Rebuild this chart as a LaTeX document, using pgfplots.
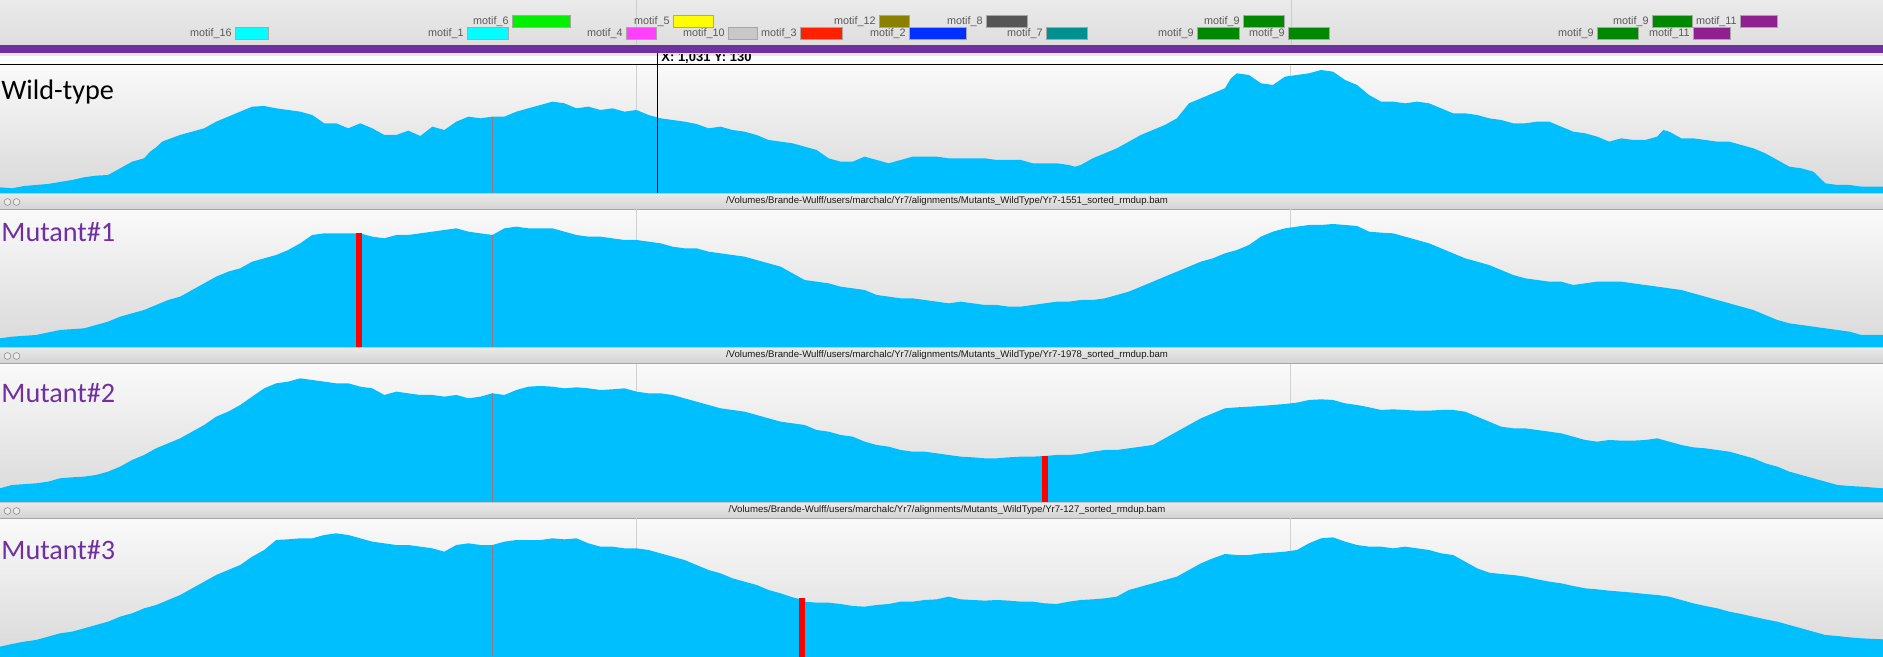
\documentclass[border=0pt]{standalone}
\usepackage{fontspec}
\setmainfont{Liberation Sans}
\newfontfamily\calib{Carlito}
\usepackage{pgfplots}
\pgfplotsset{compat=1.18}
\definecolor{cov}{RGB}{0,191,255}
\definecolor{trk}{RGB}{112,48,160}
\definecolor{mk}{RGB}{150,120,130}
\definecolor{mcyan}{RGB}{0,255,255}
\definecolor{mgreen}{RGB}{0,240,0}
\definecolor{mmag}{RGB}{255,64,255}
\definecolor{myel}{RGB}{255,255,0}
\definecolor{mlgray}{RGB}{200,200,200}
\definecolor{mred}{RGB}{255,32,0}
\definecolor{molive}{RGB}{140,128,0}
\definecolor{mblue}{RGB}{0,48,255}
\definecolor{mdgray}{RGB}{85,85,85}
\definecolor{mteal}{RGB}{0,144,144}
\definecolor{mdgreen}{RGB}{0,136,0}
\definecolor{mpurp}{RGB}{144,32,144}
\newcommand{\motif}[5]{%
  \filldraw[fill=#2, draw=black!35, line width=0.3pt] (#3,#5) rectangle (#4,#5+12);
  \node[anchor=base east, inner sep=0pt, font=\fontsize{5.4pt}{6pt}\selectfont, text=black!65] at (#3-3,#5+9.5) {#1};}
\newcommand{\tbar}[2]{%
  \shade[top color=black!8, bottom color=black!17] (0,#1) rectangle (1883,#1+16);
  \draw[black!22, line width=0.3pt] (0,#1) -- (1883,#1);
  \draw[black!35, line width=0.3pt] (0,#1+16) -- (1883,#1+16);
  \draw[black!45, fill=black!8, line width=0.3pt] (7.5,#1+9) circle (3.4) (16.5,#1+9) circle (3.4);
  \node[inner sep=0pt, font=\fontsize{4.8pt}{5pt}\selectfont, text=black!90] at (947,#1+8.5) {#2};}
\pgfplotsset{panel/.style={anchor=south west, scale only axis, width=941.5pt,
  xmin=0, xmax=1568, ymin=0, hide axis, clip=true}}
\begin{document}
\begin{tikzpicture}
\useasboundingbox (0,0) rectangle (941.5pt,328.5pt);
\begin{scope}[x=0.5pt, y=-0.5pt, yshift=328.5pt]
  % header
  \shade[top color=black!8, bottom color=black!13] (0,0) rectangle (1883,45);
  \draw[black!20, line width=0.3pt] (636,0) -- (636,45) (1291,0) -- (1291,45);
  \fill[trk] (0,45) rectangle (1883,53);
  \fill[black!9] (0,53) rectangle (1883,56);
  \fill[white] (0,56) rectangle (1883,64);
  % panel backgrounds
  \shade[top color=black!2, bottom color=black!15] (0,64) rectangle (1883,193);
  \shade[top color=black!2, bottom color=black!15] (0,209) rectangle (1883,347);
  \shade[top color=black!2, bottom color=black!15] (0,364) rectangle (1883,502);
  \shade[top color=black!2, bottom color=black!15] (0,518) rectangle (1883,657);
  % motifs row 1
  \motif{motif\_6}{mgreen}{512}{570}{15}
  \motif{motif\_5}{myel}{673}{713}{15}
  \motif{motif\_12}{molive}{879}{909}{15}
  \motif{motif\_8}{mdgray}{986}{1027}{15}
  \motif{motif\_9}{mdgreen}{1243}{1284}{15}
  \motif{motif\_9}{mdgreen}{1652}{1692}{15}
  \motif{motif\_11}{mpurp}{1740}{1777}{15}
  % motifs row 2
  \motif{motif\_16}{mcyan}{235}{268}{27}
  \motif{motif\_1}{mcyan}{467}{508}{27}
  \motif{motif\_4}{mmag}{626}{656}{27}
  \motif{motif\_10}{mlgray}{728}{757}{27}
  \motif{motif\_3}{mred}{800}{842}{27}
  \motif{motif\_2}{mblue}{909}{966}{27}
  \motif{motif\_7}{mteal}{1046}{1087}{27}
  \motif{motif\_9}{mdgreen}{1197}{1239}{27}
  \motif{motif\_9}{mdgreen}{1288}{1329}{27}
  \motif{motif\_9}{mdgreen}{1597}{1638}{27}
  \motif{motif\_11}{mpurp}{1693}{1730}{27}
  % title bars
  \tbar{193}{/Volumes/Brande-Wulff/users/marchalc/Yr7/alignments/Mutants\_WildType/Yr7-1551\_sorted\_rmdup.bam}
  \tbar{347}{/Volumes/Brande-Wulff/users/marchalc/Yr7/alignments/Mutants\_WildType/Yr7-1978\_sorted\_rmdup.bam}
  \tbar{502}{/Volumes/Brande-Wulff/users/marchalc/Yr7/alignments/Mutants\_WildType/Yr7-127\_sorted\_rmdup.bam}
\end{scope}

% ---------- Wild-type ----------
\begin{axis}[panel, at={(0pt,232.17pt)}, height=64.33pt, ymax=386]
\addplot[black!18, line width=0.5pt] coordinates {(530,0)(530,386)};
\addplot[black!18, line width=0.5pt] coordinates {(1075,0)(1075,386)};
\addplot[fill=cov, draw=none] coordinates {
(0,-5)(0,16)(10,13)(20,20)(40,26)(60,38)(70,46)(80,51)(90,53)(100,73)(110,93)(120,103)(125,123)(130,136)(135,153)(140,160)(150,173)(160,183)(170,193)(180,213)(190,228)(200,243)(210,258)(220,260)(230,253)(240,248)(250,243)(260,233)(270,208)(280,208)(290,193)(300,208)(310,193)(320,173)(330,173)(340,186)(350,170)(360,198)(370,188)(380,213)(390,228)(400,223)(410,228)(420,228)(430,243)(440,253)(450,263)(460,273)(470,268)(480,253)(490,258)(500,248)(510,253)(520,243)(530,248)(540,233)(550,223)(560,218)(570,213)(580,206)(590,193)(600,198)(610,188)(620,183)(630,173)(640,158)(650,153)(660,148)(670,138)(680,128)(690,103)(700,93)(710,93)(720,108)(730,98)(740,88)(750,98)(760,108)(770,108)(780,108)(790,103)(800,103)(810,103)(820,103)(830,98)(840,98)(850,98)(860,88)(870,88)(880,88)(890,83)(895,78)(900,83)(910,103)(920,118)(930,133)(940,153)(950,173)(960,188)(970,203)(980,223)(990,268)(1000,283)(1010,298)(1020,313)(1025,343)(1030,358)(1040,353)(1050,328)(1060,323)(1070,348)(1080,353)(1090,358)(1100,368)(1110,363)(1120,338)(1130,323)(1140,293)(1150,273)(1160,273)(1170,268)(1180,273)(1190,268)(1200,253)(1210,238)(1220,238)(1230,233)(1240,223)(1250,218)(1260,208)(1270,208)(1280,213)(1290,213)(1300,198)(1310,183)(1320,178)(1330,168)(1340,153)(1350,163)(1360,158)(1370,158)(1380,168)(1385,188)(1390,183)(1400,163)(1410,163)(1420,158)(1430,153)(1440,153)(1450,143)(1460,133)(1470,118)(1480,98)(1490,78)(1500,73)(1510,63)(1520,28)(1530,23)(1540,23)(1550,18)(1568,18)(1568,-5)} -- cycle;
\addplot[mk, line width=0.4pt] coordinates {(410,0)(410,228)};
\end{axis}

% ---------- Mutant#1 ----------
\begin{axis}[panel, at={(0pt,155pt)}, height=68.83pt, ymax=413]
\addplot[black!18, line width=0.5pt] coordinates {(530,0)(530,413)};
\addplot[black!18, line width=0.5pt] coordinates {(1075,0)(1075,413)};
\addplot[fill=cov, draw=none] coordinates {
(0,-5)(0,26)(10,31)(30,36)(50,51)(70,56)(80,66)(90,76)(100,91)(110,101)(120,111)(130,126)(140,141)(150,151)(160,171)(170,191)(180,211)(190,226)(200,236)(210,256)(220,266)(230,276)(240,291)(250,311)(260,336)(270,341)(280,341)(290,341)(300,341)(310,331)(320,326)(330,336)(340,336)(350,341)(360,346)(370,351)(380,356)(390,346)(400,341)(410,336)(420,356)(430,361)(440,356)(450,356)(460,356)(470,346)(480,336)(490,331)(500,331)(510,326)(520,321)(530,321)(540,316)(550,311)(560,301)(570,296)(580,296)(590,286)(600,281)(610,276)(620,271)(630,261)(640,251)(650,241)(660,221)(670,201)(680,196)(690,191)(700,181)(710,176)(720,171)(730,156)(740,151)(750,146)(760,146)(770,141)(780,136)(790,131)(800,136)(810,131)(820,126)(830,126)(840,121)(850,121)(860,126)(870,131)(880,136)(890,136)(900,141)(910,141)(920,146)(930,156)(940,166)(950,181)(960,196)(970,211)(980,226)(990,241)(1000,256)(1010,266)(1020,281)(1030,291)(1040,306)(1050,331)(1060,346)(1070,356)(1080,361)(1090,366)(1100,366)(1110,369)(1120,366)(1130,363)(1140,346)(1150,343)(1160,341)(1170,331)(1180,321)(1190,311)(1200,296)(1210,281)(1220,266)(1230,256)(1240,246)(1250,231)(1260,216)(1270,206)(1280,201)(1290,196)(1300,196)(1310,186)(1320,191)(1330,196)(1340,196)(1350,196)(1360,191)(1370,186)(1380,181)(1390,176)(1400,171)(1410,161)(1420,151)(1430,141)(1440,131)(1450,121)(1460,111)(1470,96)(1480,81)(1490,71)(1500,66)(1510,61)(1520,56)(1530,51)(1540,46)(1550,36)(1560,36)(1568,36)(1568,-5)} -- cycle;
\addplot[mk, line width=0.4pt] coordinates {(410,0)(410,336)};
\addplot[fill=red, draw=none] coordinates {(296.5,0)(296.5,341)(301.5,341)(301.5,0)} -- cycle;
\end{axis}

% ---------- Mutant#2 ----------
\begin{axis}[panel, at={(0pt,77.67pt)}, height=68.83pt, ymax=413]
\addplot[black!18, line width=0.5pt] coordinates {(530,0)(530,413)};
\addplot[black!18, line width=0.5pt] coordinates {(1075,0)(1075,413)};
\addplot[fill=cov, draw=none] coordinates {
(0,-5)(0,40)(10,50)(30,55)(40,60)(50,70)(60,73)(70,75)(80,80)(90,90)(100,105)(110,125)(120,140)(130,160)(140,175)(150,190)(160,210)(170,230)(180,255)(190,270)(200,290)(210,315)(220,340)(230,355)(240,360)(250,370)(260,365)(270,360)(280,355)(290,355)(300,345)(310,340)(320,320)(330,330)(340,325)(350,320)(360,320)(370,315)(380,320)(390,310)(400,315)(410,325)(420,320)(430,335)(440,345)(450,347)(460,345)(470,340)(480,343)(490,340)(500,335)(510,337)(520,340)(530,330)(540,325)(550,325)(560,320)(570,310)(580,300)(590,290)(600,280)(610,275)(620,270)(630,260)(640,250)(650,240)(660,235)(670,230)(680,215)(690,210)(700,200)(710,195)(720,180)(730,170)(740,165)(750,155)(760,150)(770,150)(780,145)(790,140)(800,135)(810,133)(820,130)(830,130)(840,133)(850,135)(860,135)(870,137)(880,140)(890,140)(900,143)(910,150)(920,155)(930,155)(940,160)(950,165)(960,170)(970,190)(980,210)(990,230)(1000,250)(1010,265)(1020,280)(1030,283)(1040,285)(1050,287)(1060,290)(1070,293)(1080,297)(1090,305)(1100,307)(1110,305)(1120,295)(1130,290)(1140,283)(1150,275)(1160,277)(1170,275)(1180,273)(1190,273)(1200,275)(1210,275)(1220,270)(1230,255)(1240,240)(1250,225)(1260,220)(1270,220)(1280,215)(1290,210)(1300,205)(1310,195)(1320,185)(1330,180)(1340,185)(1350,183)(1360,183)(1370,185)(1380,190)(1390,180)(1400,170)(1410,163)(1420,160)(1430,155)(1440,150)(1450,140)(1460,130)(1470,115)(1480,105)(1490,90)(1500,80)(1510,70)(1520,60)(1530,50)(1540,47)(1550,45)(1568,40)(1568,-5)} -- cycle;
\addplot[mk, line width=0.4pt] coordinates {(410,0)(410,325)};
\addplot[fill=red, draw=none] coordinates {(868,0)(868,137)(873,137)(873,0)} -- cycle;
\end{axis}

% ---------- Mutant#3 ----------
\begin{axis}[panel, at={(0pt,0pt)}, height=69.33pt, ymin=-3, ymax=413]
\addplot[black!18, line width=0.5pt] coordinates {(530,0)(530,413)};
\addplot[black!18, line width=0.5pt] coordinates {(1075,0)(1075,413)};
\addplot[fill=cov, draw=none] coordinates {
(0,-5)(0,28)(10,36)(20,43)(30,48)(40,58)(50,68)(60,73)(70,83)(80,93)(90,103)(100,118)(110,128)(120,143)(130,153)(140,168)(150,183)(160,203)(170,223)(180,243)(190,258)(200,273)(210,298)(220,318)(230,348)(240,350)(250,353)(260,353)(270,363)(280,368)(290,363)(300,353)(310,343)(320,338)(330,333)(340,333)(350,328)(360,323)(370,313)(380,333)(390,338)(400,333)(410,333)(420,343)(430,348)(440,348)(450,348)(460,353)(470,350)(480,353)(490,338)(500,328)(510,328)(520,323)(530,323)(540,318)(550,308)(560,298)(570,288)(580,273)(590,258)(600,248)(610,233)(620,223)(630,213)(640,198)(650,188)(660,176)(667,170)(670,163)(680,160)(690,160)(700,156)(710,150)(720,148)(730,153)(740,156)(750,163)(760,163)(770,168)(780,170)(790,178)(800,170)(810,168)(820,166)(830,168)(840,166)(850,163)(860,163)(870,158)(880,156)(890,163)(900,168)(910,170)(920,173)(930,178)(940,198)(950,208)(960,218)(970,228)(980,238)(990,258)(1000,278)(1010,293)(1020,306)(1030,303)(1040,303)(1050,308)(1060,310)(1070,313)(1080,318)(1090,338)(1100,353)(1110,356)(1120,343)(1130,333)(1140,328)(1150,328)(1160,323)(1170,328)(1180,323)(1190,318)(1200,308)(1210,303)(1220,283)(1230,263)(1240,250)(1250,246)(1260,243)(1270,238)(1280,230)(1290,223)(1300,218)(1310,210)(1320,203)(1330,200)(1340,196)(1350,193)(1360,190)(1370,186)(1380,183)(1390,178)(1400,168)(1410,158)(1420,150)(1430,143)(1440,133)(1450,126)(1460,118)(1470,110)(1480,103)(1490,93)(1500,83)(1510,73)(1520,63)(1530,60)(1540,56)(1550,53)(1568,50)(1568,-5)} -- cycle;
\addplot[mk, line width=0.4pt] coordinates {(410,0)(410,333)};
\addplot[fill=red, draw=none] coordinates {(665,-3)(665,175)(670,175)(670,-3)} -- cycle;
\end{axis}

\begin{scope}[x=0.5pt, y=-0.5pt, yshift=328.5pt]
  \draw[black, line width=0.5pt] (0,64.5) -- (1883,64.5);
  \draw[black, line width=0.5pt] (657,53) -- (657,193);
  \begin{scope}
    \clip (640,55) rectangle (780,64);
    \node[anchor=base west, inner sep=0pt, font=\fontsize{6.5pt}{7pt}\selectfont\bfseries] at (661,61.5) {X: 1,031 Y: 130};
  \end{scope}
  \node[anchor=base west, inner sep=0pt, font=\calib\fontsize{14.1pt}{15pt}\selectfont] at (1,100) {Wild-type};
  \node[anchor=base west, inner sep=0pt, text=trk, font=\calib\fontsize{14.1pt}{15pt}\selectfont] at (1,242) {Mutant\#1};
  \node[anchor=base west, inner sep=0pt, text=trk, font=\calib\fontsize{14.1pt}{15pt}\selectfont] at (1,403) {Mutant\#2};
  \node[anchor=base west, inner sep=0pt, text=trk, font=\calib\fontsize{14.1pt}{15pt}\selectfont] at (1,560) {Mutant\#3};
\end{scope}
\end{tikzpicture}
\end{document}
